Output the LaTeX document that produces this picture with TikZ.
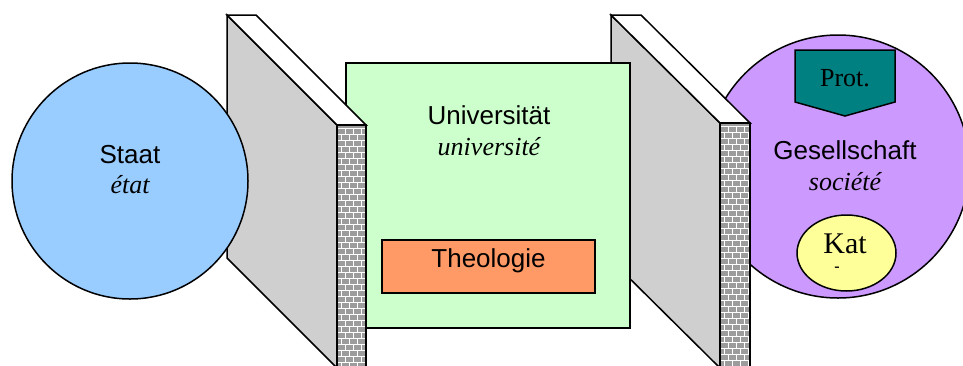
\documentclass[tikz,border=0pt]{standalone}
\usepackage{fontspec}
\setmainfont{Liberation Serif}
\setsansfont{Liberation Sans}
\usetikzlibrary{shapes.geometric}
\definecolor{cstaat}{HTML}{99CCFF}
\definecolor{cuni}{HTML}{CCFFCC}
\definecolor{cgesell}{HTML}{CC99FF}
\definecolor{ctheo}{HTML}{FF9966}
\definecolor{cprot}{HTML}{008080}
\definecolor{ckat}{HTML}{FFFF99}
\definecolor{cwall}{HTML}{CFCFCF}
\definecolor{cbrick}{HTML}{9C9C9C}
% wall with brick edge: #1 left x, #2 face right x, #3 strip right x, #4 face top y, #5 bottom-left y
\newcommand{\brickwall}[5]{%
  \draw[wallface] (#1,15) -- (#2,#4) -- (#2,368) -- (#1,#5) -- cycle;
  \draw[wallface,fill=white] (#1,15) -- ++(#3-#2,0) -- (#3,#4) -- (#2,#4) -- cycle;
  \begin{scope}
    \clip (#2,#4) rectangle (#3,366);
    \fill[cbrick] (#2,#4) rectangle (#3,366);
    \foreach \r [evaluate=\r as \o using {mod(\r,2)*4}] in {0,...,40}{
      \draw[mortar] (#2,#4+6*\r+3) -- (#3,#4+6*\r+3);
      \foreach \k in {0,...,4}
        \draw[mortar] (#2+8*\k+\o,#4+6*\r+3) -- ++(0,6);
    }
  \end{scope}
  \draw[line width=1.5pt] (#2,366) -- (#2,#4) -- (#3,#4) -- (#3,366);
}

\begin{document}
\begin{tikzpicture}[x=1pt,y=-1pt,line width=1.5pt,
  ger/.style={font=\sffamily\fontsize{26}{30}\selectfont,anchor=base},
  fra/.style={font=\rmfamily\itshape\fontsize{26}{30}\selectfont,anchor=base},
  blob/.style={circle,draw,inner sep=0pt},
  wallface/.style={draw,fill=cwall,line join=miter},
  mortar/.style={white,line width=0.8pt}]
\useasboundingbox (0,0) rectangle (963,365);
% Gesellschaft behind the right wall
\node[blob,fill=cgesell,minimum size=263pt] (gesell) at (838,166.5) {};
\draw[fill=cprot] (795,50) -- (895,50) -- (895,102) -- (845,116) -- (795,102) -- cycle;
\node[font=\rmfamily\fontsize{26}{30}\selectfont,anchor=base] (prot) at (845,86) {Prot.};
\node[ger] (gesname) at (845,159) {Gesellschaft};
\node[fra] (gesfr) at (845,190) {société};
\node[ellipse,draw,fill=ckat,minimum width=99pt,minimum height=76pt,inner sep=0pt] (kat) at (846.5,253) {};
\node[font=\rmfamily\fontsize{30}{30}\selectfont,anchor=base] (katname) at (845,253) {Kat};
\node[font=\rmfamily\bfseries\fontsize{16}{16}\selectfont] (katdash) at (837,269) {-};
\brickwall{611}{720}{750}{123}{260}
% Universitaet in front of the right wall
\node[draw,fill=cuni,minimum width=284pt,minimum height=265pt,inner sep=0pt] (uni) at (488,195.5) {};
\node[ger] (uniname) at (489,124) {Universität};
\node[fra] (unifr) at (489,155) {université};
\node[draw,fill=ctheo,minimum width=213pt,minimum height=53pt,inner sep=0pt] (theo) at (488.5,266.5) {};
\node[ger] (theoname) at (488.5,267) {Theologie};
\brickwall{227}{337}{366}{125}{258}
% Staat in front of the left wall
\node[blob,fill=cstaat,minimum size=236pt] (staat) at (130,181) {};
\node[ger] (staatname) at (130,163) {Staat};
\node[fra] (staatfr) at (130,193) {état};
\end{tikzpicture}
\end{document}
